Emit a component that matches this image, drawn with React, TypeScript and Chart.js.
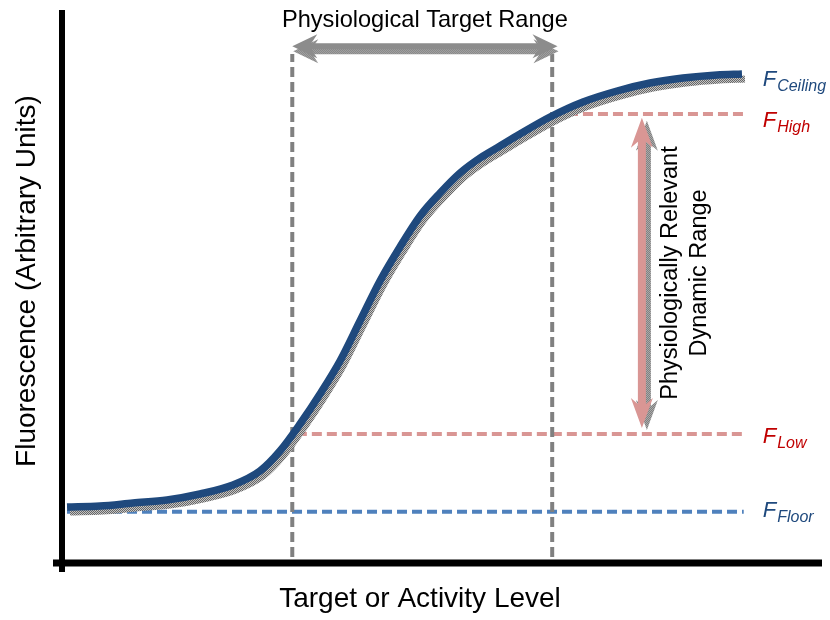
import React, { useEffect, useRef } from "react";
import { Chart, registerables } from "chart.js";

Chart.register(...registerables);

// Sigmoid response curve
const curveX = [0.66, 5.0, 9.34, 13.82, 18.16, 22.5, 26.05, 28.68, 31.32, 33.95, 36.58, 39.21, 41.84, 44.47, 47.11, 49.74, 52.37, 55.0, 57.63, 60.26, 64.21, 68.55, 73.03, 77.37, 81.71, 86.18, 89.47];
const curveY = [10.16, 10.34, 10.89, 11.43, 12.52, 14.16, 16.7, 20.33, 25.23, 30.67, 36.66, 43.92, 51.18, 57.35, 62.98, 67.15, 70.78, 73.5, 75.68, 77.86, 80.94, 83.67, 85.66, 87.11, 88.02, 88.57, 88.75];

// Reference levels
const floorLevel = 9.3;
const lowLevel = 23.4;
const highLevel = 81.5;
const ceilingLevel = 88.75;
const floorStartX = 0.66;
const lowStartX = 30.9;
const highStartX = 64.6;
const levelEndX = 89.7;

// Physiological target range (x)
const targetRange = [30.3, 64.5];
const targetLineY = [1.1, 92.4];
const targetArrowY = 93.8;
const targetArrowX = [30.3, 65.2];

// Dynamic range arrow
const dynamicArrowX = 76.3;
const dynamicArrowY = [80.8, 24.5];

const levelLabels = ["Ceiling", "High", "Low", "Floor"];
const levelValues = [ceilingLevel, highLevel, lowLevel, floorLevel];

const BLUE_DARK = "#1f497d";
const BLUE_DASH = "#4f81bd";
const PINK = "#d99694";
const RED_TEXT = "#c00000";
const GRAY = "#808080";
const FONT = "'Liberation Sans', Arial, sans-serif";

function makePattern(): CanvasPattern | string {
  const c = document.createElement("canvas");
  c.width = 2;
  c.height = 2;
  const g = c.getContext("2d");
  if (!g) return "#9a9a9a";
  g.fillStyle = "#c4c4c4";
  g.fillRect(0, 0, 2, 2);
  g.fillStyle = "#666666";
  g.fillRect(0, 0, 1, 1);
  g.fillRect(1, 1, 1, 1);
  const p = g.createPattern(c, "repeat");
  return p || "#9a9a9a";
}

function drawArrow(ctx: CanvasRenderingContext2D, x1: number, y1: number, x2: number, y2: number, w: number, L: number, Ln: number, H: number) {
  const dx = x2 - x1;
  const dy = y2 - y1;
  const len = Math.hypot(dx, dy);
  ctx.save();
  ctx.translate(x1, y1);
  ctx.rotate(Math.atan2(dy, dx));
  ctx.beginPath();
  ctx.moveTo(0, 0);
  ctx.lineTo(L, -H);
  ctx.lineTo(Ln, -w / 2);
  ctx.lineTo(len - Ln, -w / 2);
  ctx.lineTo(len - L, -H);
  ctx.lineTo(len, 0);
  ctx.lineTo(len - L, H);
  ctx.lineTo(len - Ln, w / 2);
  ctx.lineTo(Ln, w / 2);
  ctx.lineTo(L, H);
  ctx.closePath();
  ctx.fill();
  ctx.restore();
}

export default function App() {
  const ref = useRef<HTMLCanvasElement | null>(null);

  useEffect(() => {
    document.body.style.margin = "0";
    const canvas = ref.current;
    if (!canvas) return;
    const pattern = makePattern();

    const toPts = (xs: number[], ys: number[]) => xs.map((x, i) => ({ x, y: ys[i] }));

    const shadowPlugin = {
      id: "shadowShift",
      beforeDatasetDraw(chart: any, args: any) {
        if (chart.data.datasets[args.index].label === "shadow") {
          chart.ctx.save();
          chart.ctx.translate(3, 5);
        }
      },
      afterDatasetDraw(chart: any, args: any) {
        if (chart.data.datasets[args.index].label === "shadow") {
          chart.ctx.restore();
        }
      },
    };

    const decorPlugin = {
      id: "decor",
      beforeDatasetsDraw(chart: any) {
        const ctx = chart.ctx as CanvasRenderingContext2D;
        const xs = chart.scales.x;
        const ys = chart.scales.y;
        const x0 = xs.getPixelForValue(0);
        const y0 = ys.getPixelForValue(0);
        ctx.save();
        ctx.strokeStyle = "#000";
        ctx.lineWidth = 6;
        ctx.beginPath();
        ctx.moveTo(x0, ys.getPixelForValue(100) - 2);
        ctx.lineTo(x0, y0 + 9);
        ctx.stroke();
        ctx.lineWidth = 7;
        ctx.beginPath();
        ctx.moveTo(x0 - 9, y0);
        ctx.lineTo(xs.getPixelForValue(100), y0);
        ctx.stroke();
        ctx.restore();
      },
      afterDatasetsDraw(chart: any) {
        const ctx = chart.ctx as CanvasRenderingContext2D;
        const xs = chart.scales.x;
        const ys = chart.scales.y;
        const px = (v: number) => xs.getPixelForValue(v);
        const py = (v: number) => ys.getPixelForValue(v);
        ctx.save();

        // Horizontal target-range arrow
        const ax1 = px(targetArrowX[0]);
        const ax2 = px(targetArrowX[1]);
        const ay = py(targetArrowY);
        ctx.fillStyle = pattern as any;
        drawArrow(ctx, ax1 + 1, ay + 5, ax2 + 1, ay + 5, 6, 25, 19, 12);
        ctx.fillStyle = "#8c8c8c";
        drawArrow(ctx, ax1, ay, ax2, ay, 6, 25, 19, 12);

        // Vertical dynamic-range arrow
        const vx = px(dynamicArrowX);
        const vy1 = py(dynamicArrowY[0]);
        const vy2 = py(dynamicArrowY[1]);
        ctx.fillStyle = pattern as any;
        drawArrow(ctx, vx + 5, vy1 + 3, vx + 5, vy2 + 2, 8, 30, 24, 11);
        ctx.fillStyle = PINK;
        drawArrow(ctx, vx, vy1, vx, vy2, 8, 30, 24, 11);

        // Texts
        ctx.fillStyle = "#000";
        ctx.textAlign = "center";
        ctx.textBaseline = "alphabetic";
        ctx.font = `23.6px ${FONT}`;
        ctx.fillText("Physiological Target Range", (ax1 + ax2) / 2, 27);

        ctx.font = `28px ${FONT}`;
        ctx.fillText("Target or Activity Level", 420, 607);

        ctx.save();
        ctx.translate(35, 281);
        ctx.rotate(-Math.PI / 2);
        ctx.font = `28px ${FONT}`;
        ctx.fillText("Fluorescence (Arbitrary Units)", 0, 0);
        ctx.restore();

        ctx.save();
        ctx.translate(vx + 29, 273);
        ctx.rotate(-Math.PI / 2);
        ctx.font = `23.5px ${FONT}`;
        ctx.textBaseline = "middle";
        ctx.fillText("Physiologically Relevant", 0, 0);
        ctx.fillText("Dynamic Range", 0, 29);
        ctx.restore();

        // F labels
        const dys = [12, 13, 9, 5];
        const colors = [BLUE_DARK, RED_TEXT, RED_TEXT, BLUE_DARK];
        const lx = px(levelEndX) + 19;
        ctx.textAlign = "left";
        levelLabels.forEach((lab, i) => {
          const base = py(levelValues[i]) + dys[i];
          ctx.fillStyle = colors[i];
          ctx.font = `italic 22px ${FONT}`;
          ctx.fillText("F", lx, base);
          const fw = ctx.measureText("F").width;
          ctx.font = `italic 16px ${FONT}`;
          ctx.fillText(lab, lx + fw + 1, base + 5);
        });
        ctx.restore();
      },
    };

    const dashed = (label: string, data: any[], color: string) => ({
      label,
      data,
      borderColor: color,
      borderWidth: 4,
      borderDash: [10, 5],
      pointRadius: 0,
      fill: false,
      tension: 0,
      clip: false as any,
    });

    const chart = new Chart(canvas, {
      type: "line",
      data: {
        datasets: [
          {
            label: "curve",
            data: toPts(curveX, curveY),
            borderColor: BLUE_DARK,
            borderWidth: 7.5,
            pointRadius: 0,
            cubicInterpolationMode: "monotone",
            borderCapStyle: "butt",
            fill: false,
            clip: false as any,
          },
          {
            label: "shadow",
            data: toPts(curveX, curveY),
            borderColor: pattern as any,
            borderWidth: 7,
            pointRadius: 0,
            cubicInterpolationMode: "monotone",
            fill: false,
            clip: false as any,
          },
          dashed("targetLow", [{ x: targetRange[0], y: targetLineY[0] }, { x: targetRange[0], y: targetLineY[1] }], GRAY),
          dashed("targetHigh", [{ x: targetRange[1], y: targetLineY[0] }, { x: targetRange[1], y: targetLineY[1] }], GRAY),
          dashed("high", [{ x: highStartX, y: highLevel }, { x: levelEndX, y: highLevel }], PINK),
          dashed("low", [{ x: lowStartX, y: lowLevel }, { x: levelEndX, y: lowLevel }], PINK),
          dashed("floor", [{ x: floorStartX, y: floorLevel }, { x: levelEndX, y: floorLevel }], BLUE_DASH),
        ],
      },
      options: {
        responsive: false,
        animation: false,
        layout: { padding: { left: 62, right: 8, top: 12, bottom: 57 } },
        plugins: { legend: { display: false }, tooltip: { enabled: false } },
        scales: {
          x: { type: "linear", min: 0, max: 100, display: false },
          y: { type: "linear", min: 0, max: 100, display: false },
        },
      },
      plugins: [shadowPlugin, decorPlugin],
    });
    return () => chart.destroy();
  }, []);

  return <canvas ref={ref} width={830} height={620} style={{ display: "block" }} />;
}
